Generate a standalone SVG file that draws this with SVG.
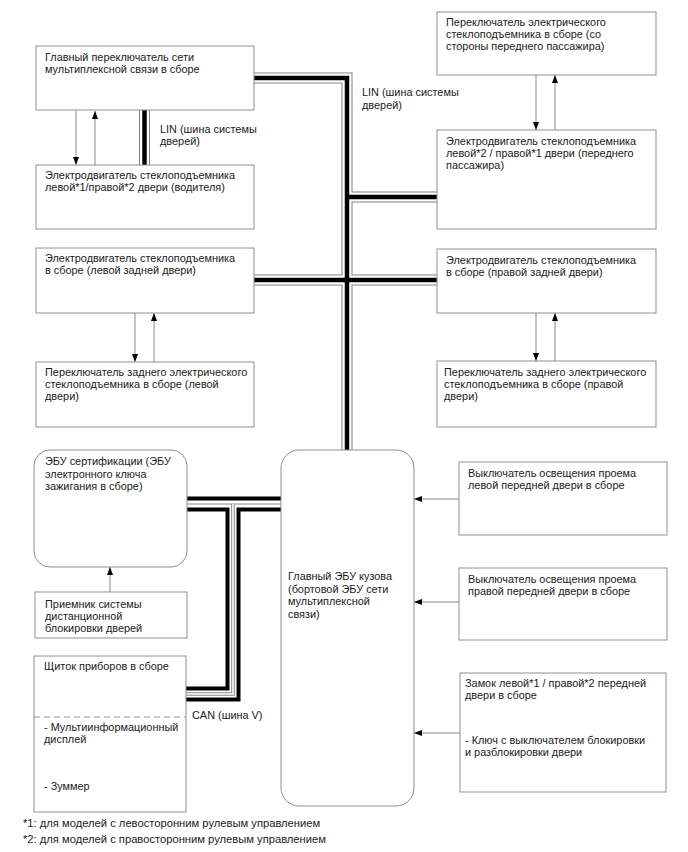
<svg xmlns="http://www.w3.org/2000/svg" width="688" height="852" viewBox="0 0 688 852">
<style>
.box{fill:#fff;stroke:#8f8f8f;stroke-width:1}
.t{font-family:"Liberation Sans",Arial,sans-serif;font-size:10.9px;fill:#1a1a1a}
.n{font-size:11.2px}
.c{fill:none;stroke:#8a8a8a;stroke-width:1}
.lg{fill:none;stroke:#808080;stroke-width:11;stroke-linejoin:miter}
.lw{fill:none;stroke:#fff;stroke-width:9;stroke-linejoin:miter}
.lb{fill:none;stroke:#000;stroke-width:4.5;stroke-linejoin:miter}
.cb{fill:none;stroke:#000;stroke-width:15;stroke-linejoin:miter}
.cw{fill:none;stroke:#fff;stroke-width:7;stroke-linejoin:miter}
.cg{fill:none;stroke:#888;stroke-width:1}
</style>
<defs>
<marker id="ah" viewBox="0 0 8 6" refX="8" refY="3" markerWidth="8" markerHeight="6" orient="auto" markerUnits="userSpaceOnUse"><path d="M0,0 L8,3 L0,6 z" fill="#000"/></marker>
</defs>
<g id="connectors">
<path class="lg" d="M254,78 H347 V450 M347,197 H437 M254,280 H437 M144.5,110 V165"/>
<path class="lw" d="M254,78 H347 V450 M347,197 H437 M254,280 H437 M144.5,110 V165"/>
<path class="lb" d="M254,78 H347 V450 M347,197 H437 M254,280 H437 M144.5,110 V165"/>
<path class="cb" d="M187,504 H281 M233,504 V694 H186"/>
<path class="cw" d="M187,504 H281 M233,504 V694 H186"/>
<path class="cg" d="M187,504 H281"/>
<path fill="none" stroke="#888" stroke-width="3.6" d="M233,504 V694 H186"/>
<path fill="none" stroke="#fff" stroke-width="1.6" d="M233,504 V694 H186"/>
<path class="c" d="M76,111 V165" marker-end="url(#ah)"/>
<path class="c" d="M95,165 V111" marker-end="url(#ah)"/>
<path class="c" d="M135,313 V362" marker-end="url(#ah)"/>
<path class="c" d="M154,362 V313" marker-end="url(#ah)"/>
<path class="c" d="M536,75 V130" marker-end="url(#ah)"/>
<path class="c" d="M555,130 V75" marker-end="url(#ah)"/>
<path class="c" d="M536,313 V361" marker-end="url(#ah)"/>
<path class="c" d="M555,361 V313" marker-end="url(#ah)"/>
<path class="c" d="M110,592 V567" marker-end="url(#ah)"/>
<path class="c" d="M459,499 H414" marker-end="url(#ah)"/>
<path class="c" d="M459,602 H414" marker-end="url(#ah)"/>
<path class="c" d="M460,733 H414" marker-end="url(#ah)"/>
<text class="t" x="160" y="133">LIN (шина системы</text>
<text class="t" x="160" y="145">дверей)</text>
<text class="t" x="362" y="96">LIN (шина системы</text>
<text class="t" x="362" y="109">дверей)</text>
<text class="t" x="192" y="719">CAN (шина V)</text>
</g>
<g id="main-switch">
<rect class="box" x="36" y="46" width="218" height="64"/>
<text class="t" x="45" y="60.5">Главный переключатель сети</text>
<text class="t" x="45" y="72.5">мультиплексной связи в сборе</text>
</g>
<g id="driver-motor">
<rect class="box" x="36" y="165" width="218" height="64"/>
<text class="t" x="45" y="179">Электродвигатель стеклоподъемника</text>
<text class="t" x="45" y="191">левой*1/правой*2 двери (водителя)</text>
</g>
<g id="rear-left-motor">
<rect class="box" x="36" y="248" width="218" height="65"/>
<text class="t" x="45" y="262">Электродвигатель стеклоподъемника</text>
<text class="t" x="45" y="274">в сборе (левой задней двери)</text>
</g>
<g id="rear-left-switch">
<rect class="box" x="36" y="362" width="218" height="65"/>
<text class="t" x="45" y="376">Переключатель заднего электрического</text>
<text class="t" x="45" y="388">стеклоподъемника в сборе (левой</text>
<text class="t" x="45" y="400">двери)</text>
</g>
<g id="passenger-switch">
<rect class="box" x="437" y="12" width="219" height="63"/>
<text class="t" x="446" y="26">Переключатель электрического</text>
<text class="t" x="446" y="38">стеклоподъемника в сборе (со</text>
<text class="t" x="446" y="50">стороны переднего пассажира)</text>
</g>
<g id="passenger-motor">
<rect class="box" x="437" y="130" width="219" height="99"/>
<text class="t" x="446" y="145">Электродвигатель стеклоподъемника</text>
<text class="t" x="446" y="157">левой*2 / правой*1 двери (переднего</text>
<text class="t" x="446" y="169">пассажира)</text>
</g>
<g id="rear-right-motor">
<rect class="box" x="437" y="249" width="219" height="64"/>
<text class="t" x="446" y="264">Электродвигатель стеклоподъемника</text>
<text class="t" x="446" y="276">в сборе (правой задней двери)</text>
</g>
<g id="rear-right-switch">
<rect class="box" x="437" y="361" width="219" height="66"/>
<text class="t" x="444" y="376">Переключатель заднего электрического</text>
<text class="t" x="444" y="388">стеклоподъемника в сборе (правой</text>
<text class="t" x="444" y="400">двери)</text>
</g>
<g id="cert-ecu">
<rect class="box" x="34" y="450" width="153" height="117" rx="16"/>
<text class="t" x="45" y="465">ЭБУ сертификации (ЭБУ</text>
<text class="t" x="45" y="477.5">электронного ключа</text>
<text class="t" x="45" y="490">зажигания в сборе)</text>
</g>
<g id="receiver">
<rect class="box" x="35" y="592" width="152" height="46"/>
<text class="t" x="45" y="608">Приемник системы</text>
<text class="t" x="45" y="620">дистанционной</text>
<text class="t" x="45" y="632">блокировки дверей</text>
</g>
<g id="cluster">
<rect class="box" x="34" y="656" width="152" height="156"/>
<line x1="34" y1="717" x2="186" y2="717" stroke="#999" stroke-width="1" stroke-dasharray="6,4"/>
<text class="t" x="44" y="670">Щиток приборов в сборе</text>
<text class="t" x="44" y="731">- Мультиинформационный</text>
<text class="t" x="44" y="743">дисплей</text>
<text class="t" x="44" y="790">- Зуммер</text>
</g>
<g id="body-ecu">
<rect class="box" x="281" y="450" width="133" height="356" rx="18"/>
<text class="t" x="288" y="580">Главный ЭБУ кузова</text>
<text class="t" x="288" y="592.5">(бортовой ЭБУ сети</text>
<text class="t" x="288" y="605">мультиплексной</text>
<text class="t" x="288" y="617.5">связи)</text>
</g>
<g id="lf-courtesy">
<rect class="box" x="459" y="462" width="208" height="73"/>
<text class="t" x="468" y="477">Выключатель освещения проема</text>
<text class="t" x="468" y="489">левой передней двери в сборе</text>
</g>
<g id="rf-courtesy">
<rect class="box" x="459" y="568" width="208" height="72"/>
<text class="t" x="468" y="583">Выключатель освещения проема</text>
<text class="t" x="468" y="595">правой передней двери в сборе</text>
</g>
<g id="door-lock">
<rect class="box" x="460" y="673" width="206" height="119"/>
<text class="t" x="465" y="687">Замок левой*1 / правой*2 передней</text>
<text class="t" x="465" y="699">двери в сборе</text>
<text class="t" x="465" y="744">- Ключ с выключателем блокировки</text>
<text class="t" x="465" y="756">и разблокировки двери</text>
</g>
<g id="notes">
<text class="t n" x="23" y="827">*1: для моделей с левосторонним рулевым управлением</text>
<text class="t n" x="23" y="843">*2: для моделей с правосторонним рулевым управлением</text>
</g>
</svg>
